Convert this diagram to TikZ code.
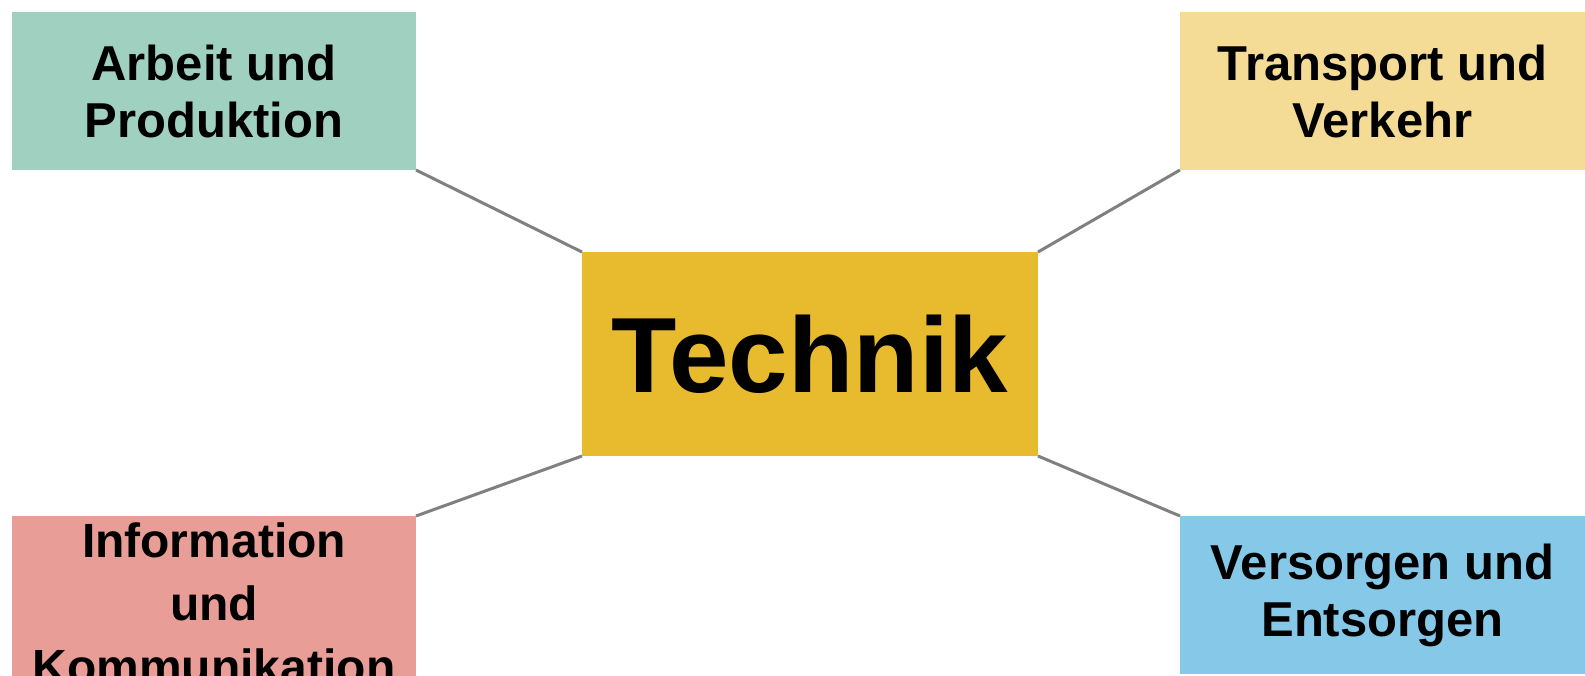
\documentclass[tikz,border=0pt]{standalone}
\usepackage{fontspec}
\setmainfont{Liberation Sans}
\definecolor{cteal}{RGB}{160,208,192}
\definecolor{cyel}{RGB}{245,220,150}
\definecolor{cpink}{RGB}{233,157,151}
\definecolor{cblue}{RGB}{133,200,232}
\definecolor{cgold}{RGB}{232,187,46}
\definecolor{cline}{RGB}{128,128,128}
\tikzset{
  topic/.style={rectangle, inner sep=0pt, outer sep=0pt, align=center,
    font=\fontsize{49}{57}\selectfont\bfseries, minimum width=404pt, minimum height=158pt},
  hub/.style={rectangle, inner sep=0pt, outer sep=0pt, fill=cgold,
    font=\fontsize{107}{120}\selectfont\bfseries, minimum width=456pt, minimum height=204pt},
  link/.style={draw=cline, line width=3pt}
}
\begin{document}
\begin{tikzpicture}[x=1pt,y=-1pt]
\useasboundingbox (0,0) rectangle (1585,675);
\clip (0,0) rectangle (1585,675);
\fill[white] (0,0) rectangle (1585,675);
\node[hub] (c) at (810,354) {Technik};
\node[topic, fill=cteal] (tl) at (214,91) {Arbeit und\\Produktion};
\node[topic, fill=cyel, minimum width=405pt] (tr) at (1382.5,91) {Transport und\\Verkehr};
\node[topic, fill=cpink, minimum height=174pt, font=\fontsize{48}{63}\selectfont\bfseries] (bl) at (214,603) {Information\\und\\Kommunikation};
\node[topic, fill=cblue, minimum width=405pt] (br) at (1382.5,595) {Versorgen und\\Entsorgen};
\draw[link] (tl.south east) -- (c.north west);
\draw[link] (tr.south west) -- (c.north east);
\draw[link] (bl.north east) -- (c.south west);
\draw[link] (br.north west) -- (c.south east);
\end{tikzpicture}
\end{document}
